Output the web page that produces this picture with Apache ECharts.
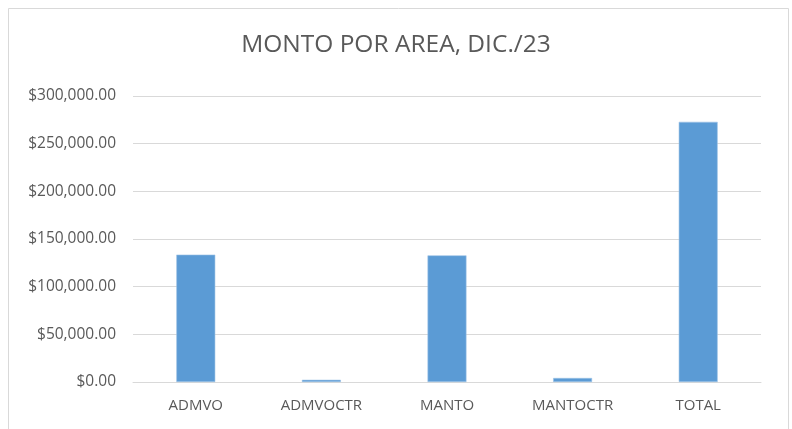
<!DOCTYPE html>
<html>
<head>
<meta charset="utf-8">
<script src="https://cdn.jsdelivr.net/npm/echarts@6/dist/echarts.min.js"></script>
<style>
  html, body { margin: 0; padding: 0; background: #ffffff; }
  #chart { width: 792px; height: 429px; }
</style>
</head>
<body>
<div id="chart"></div>
<script>
// Monthly amounts by area (December 2023)
const categories = ['ADMVO', 'ADMVOCTR', 'MANTO', 'MANTOCTR', 'TOTAL'];
const amounts = [133600, 2300, 132800, 4200, 272900];
const yTicks = { min: 0, max: 300000, interval: 50000 };

const fmtMoney = v => '$' + v.toLocaleString('en-US', { minimumFractionDigits: 2, maximumFractionDigits: 2 });

const chart = echarts.init(document.getElementById('chart'), null, { renderer: 'canvas' });
chart.setOption({
  backgroundColor: '#ffffff',
  animation: false,
  textStyle: { fontFamily: 'Open Sans' },
  title: {
    text: 'MONTO POR AREA, DIC./23',
    left: 'center',
    top: 28,
    textStyle: { fontFamily: 'Open Sans', fontSize: 24.5, fontWeight: 'normal', color: '#595959' }
  },
  graphic: [{
    type: 'rect',
    shape: { x: 8.5, y: 8.5, width: 780, height: 440 },
    style: { fill: 'none', stroke: '#d9d9d9', lineWidth: 1 },
    silent: true
  }],
  grid: { left: 133, right: 31, top: 96, bottom: 47 },
  xAxis: {
    type: 'category',
    data: categories,
    axisLine: { show: true, lineStyle: { color: '#d9d9d9', width: 1 } },
    axisTick: { show: false },
    axisLabel: { color: '#595959', fontSize: 15, margin: 16 }
  },
  yAxis: {
    type: 'value',
    min: yTicks.min,
    max: yTicks.max,
    interval: yTicks.interval,
    axisLine: { show: false },
    axisTick: { show: false },
    splitLine: { lineStyle: { color: '#d9d9d9', width: 1 } },
    axisLabel: { color: '#595959', fontSize: 15.5, margin: 17, formatter: fmtMoney }
  },
  series: [{
    type: 'bar',
    data: amounts,
    barWidth: '31%',
    itemStyle: { color: '#5b9bd5', borderColor: '#9dc3e6', borderWidth: 0.6 }
  }]
});
</script>
</body>
</html>
